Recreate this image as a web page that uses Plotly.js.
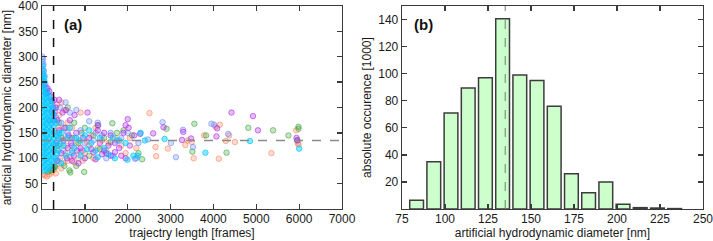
<!DOCTYPE html>
<html>
<head>
<meta charset="utf-8">
<script src="https://cdn.plot.ly/plotly-3.0.1.min.js"></script>
<style>
html,body{margin:0;padding:0;background:#fff;}
#chart{width:713px;height:241px;}
</style>
</head>
<body>
<div id="chart"></div>
<script>
// ---- panel (a): trajectory length vs. artificial hydrodynamic diameter ----
// points as [length (frames), diameter (nm)], one list per measurement series
const cyanPts = [
  [15,82],[15,92],[15,102],[15,112],[15,122],[15,132],[15,142],[15,152],[15,162],[15,172],[15,182],[15,192],[15,202],[15,212],[15,222],[15,232],[15,242],[15,252],[15,262],[15,272],[15,282],
  [60,75],[60,86],[60,97],[60,108],[60,119],[60,130],[60,141],[60,152],[60,163],[60,174],[60,185],[60,196],[60,207],[60,218],[60,229],[60,240],[60,251],[60,262],
  [110,78],[110,89],[110,100],[110,111],[110,122],[110,133],[110,144],[110,155],[110,166],[110,177],[110,188],[110,199],[110,210],[110,221],[110,232],
  [165,80],[165,92],[165,104],[165,116],[165,128],[165,140],[165,152],[165,164],[165,176],[165,188],[165,200],[165,212],[165,222],
  [220,84],[220,96],[220,108],[220,120],[220,132],[220,144],[220,156],[220,168],[220,180],[220,192],[220,204],[220,214],
  [270,90],[270,102],[270,114],[270,126],[270,138],[270,150],[270,162],[270,174],[270,186],[270,198],
  [330,100],[330,125],[330,145],[330,170],[380,115],[380,140],[420,128],[460,150],
  [400,150],[500,125],[600,140],[700,110],[800,140],[900,105],[1000,145],[1150,130],[1250,115],[1350,140],
  [1450,120],[1550,108],[1650,140],[1800,135],[1950,130],[1992,97],[2133,105],[2234,105],[2400,135],[2300,150],
  [650,160],[350,110],[450,90],[750,120],[1100,155],[1700,100],[560,105],[880,135],[1050,118],[1300,102],
  [2860,138],[3813,111],[4852,134],[6000,119]
];
const bluePts = [
  [8,300],[22,296],[12,290],[35,285],[18,276],[45,272],[28,266],[55,258],[40,250],[80,246],[95,238],[130,230],
  [330,180],[450,170],[550,210],[800,195],[1100,173],[1300,170],[1400,145],[1600,150],[1750,135],[2000,150],
  [2200,100],[2172,99],[900,155],[650,190],[1200,135],[1500,100],[1650,105],[700,125],[500,115],[350,135],
  [1000,130],[1850,140],[2250,130],[420,200],[600,150],[760,140],[950,115],[1250,150],[380,95],
  [2812,171],[2469,137],[3008,130],[3125,102],[3289,156],[3523,122],[3953,168],[4016,166],[4344,148]
];
const purplePts = [
  [50,245],[90,228],[130,238],[170,232],[200,222],[240,212],[260,200],[290,215],[230,190],[300,192],[280,175],[190,175],
  [320,200],[400,215],[480,190],[560,195],[650,175],[760,185],[1062,190],[1300,155],[1310,165],[1450,150],
  [1600,145],[1700,130],[1800,120],[1900,150],[1950,165],[2000,177],[2020,160],[2050,125],[2150,145],[2290,148],
  [1850,105],[1700,112],[1500,110],[1400,108],[1200,112],[1000,100],[850,90],[700,95],[600,120],[500,135],
  [400,155],[350,95],[900,120],[1100,140],[800,150],[1550,125],[1950,100],[1350,130],
  [330,130],[360,175],[450,110],[520,160],[580,100],[620,145],[680,130],[740,105],[820,115],[960,140],
  [1150,118],[1250,98],[1450,115],[1600,105],
  [2594,149],[2836,161],[3266,136],[3297,152],[3477,139],[4070,143],[4086,159],[4422,190],[4922,183],
  [5039,155],[5938,140],[5953,135]
];
const orangePts = [
  [25,68],[70,66],[120,64],[170,68],[230,72],[280,78],[320,70],
  [350,205],[450,210],[400,185],[520,195],[600,170],[700,160],[900,190],[350,120],[420,100],[500,90],[600,95],
  [750,92],[850,100],[950,95],[1000,110],[1100,125],[1200,100],[1300,120],[1400,135],[1550,130],[1700,140],
  [1850,125],[1950,110],[2050,140],[2200,120],[300,150],[650,140],[800,130],[1150,145],[450,80],[550,110],
  [700,115],[380,160],[1250,160],[1500,115],[340,88],[480,140],[560,125],[900,112],[1050,132],[660,102],
  [2508,189],[2648,122],[2664,104],[2937,119],[3344,126],[3398,135],[3492,132],[3539,100],[3781,145],
  [4047,162],[4125,99],[4148,166],[4289,134],[4367,145],[4500,132],[5352,110],[5930,155],[5970,130],[5984,127]
];
const greenPts = [
  [150,74],[200,76],[250,80],[290,84],
  [305,83],[640,76],[660,72],[984,73],[520,85],[800,85],[400,170],[600,200],[750,170],[1000,160],[1200,145],
  [1300,165],[1450,140],[1641,169],[1750,150],[1600,132],[2336,98],[2250,110],[2100,145],[1900,155],[850,130],
  [1100,105],[450,140],[550,160],[1350,118],[380,125],[700,140],[920,150],
  [2906,158],[3508,113],[3555,168],[3828,145],[4305,111],[4813,160],[5391,155],[5750,145],[5984,162],[5984,158],[5960,136]
];

// ---- panel (b): histogram of the artificial hydrodynamic diameter ----
const binCenters = [83.5,93.5,103.5,113.5,123.5,133.5,143.5,153.5,163.5,173.5,183.5,193.5,203.5,213.5,223.5,233.5];
const binCounts  = [6.5,35,71,89.5,97,140.5,99,95,76,26,12,20,3.5,1,0.7,0.3];

// tick labels
const xTicksA = [1000,2000,3000,4000,5000,6000,7000];
const yTicksA = [0,50,100,150,200,250,300,350,400];
const xTicksB = [75,100,125,150,175,200,225,250];
const yTicksB = [20,40,60,80,100,120,140];

// reference values
const lengthCut = 270;     // frames
const meanDiameter = 135;  // nm

const FONT = '"Liberation Sans", Arial, sans-serif';
const AX = '#3a3a3a';
const tickFont = {family: FONT, size: 12, color: '#1a1a1a'};

function series(pts, rgb, fillA, lineA) {
  return {
    type: 'scatter', mode: 'markers',
    x: pts.map(p => p[0]), y: pts.map(p => p[1]),
    xaxis: 'x', yaxis: 'y', hoverinfo: 'skip', showlegend: false,
    marker: {
      size: 5.5, symbol: 'circle',
      color: 'rgba(' + rgb + ',' + fillA + ')',
      line: {color: 'rgba(' + rgb + ',' + lineA + ')', width: 1}
    }
  };
}

const traces = [
  series(orangePts, '255,125,85', 0.28, 0.55),
  series(greenPts, '50,160,50', 0.28, 0.55),
  series(bluePts, '110,140,255', 0.30, 0.60),
  series(purplePts, '175,45,235', 0.32, 0.62),
  series(cyanPts, '0,200,255', 0.45, 0.70),
  {
    type: 'bar', x: binCenters, y: binCounts, width: 8,
    xaxis: 'x2', yaxis: 'y2', hoverinfo: 'skip', showlegend: false,
    marker: {color: '#ccffcc', line: {color: '#3c3c3c', width: 1.5}}
  }
];

const axisBase = {
  showline: true, linecolor: AX, linewidth: 1.3, mirror: 'ticks',
  ticks: 'inside', ticklen: 5, tickwidth: 1.3, tickcolor: AX,
  showgrid: false, zeroline: false, automargin: false,
  ticklabeloverflow: 'allow',
  tickfont: tickFont
};
const titleFont = {family: FONT, size: 12, color: '#1a1a1a'};

const layout = {
  width: 713, height: 241,
  margin: {l: 42, r: 10, t: 6, b: 32},
  paper_bgcolor: '#fff', plot_bgcolor: '#fff',
  font: {family: FONT},
  xaxis: Object.assign({}, axisBase, {
    domain: [0, 0.4539], range: [0, 7000], anchor: 'y',
    tickmode: 'array', tickvals: xTicksA, ticklabelstandoff: -2,
    title: {text: 'trajectry length [frames]', font: titleFont, standoff: 0}
  }),
  yaxis: Object.assign({}, axisBase, {
    domain: [0, 1], range: [0, 400], anchor: 'x',
    tickmode: 'array', tickvals: yTicksA,
    title: {text: 'artificial hydrodynamic diameter [nm]', font: titleFont, standoff: 4}
  }),
  xaxis2: Object.assign({}, axisBase, {
    domain: [0.5446, 1], range: [75, 250], anchor: 'y2',
    tickmode: 'array', tickvals: xTicksB, ticklabelstandoff: -2,
    title: {text: 'artificial hydrodynamic diameter [nm]', font: titleFont, standoff: 0}
  }),
  yaxis2: Object.assign({}, axisBase, {
    domain: [0, 1], range: [0, 150], anchor: 'x2',
    tickmode: 'array', tickvals: yTicksB,
    title: {text: 'absolute occurence [1000]', font: titleFont, standoff: 4}
  }),
  bargap: 0,
  shapes: [
    {type: 'line', xref: 'x', yref: 'y', x0: lengthCut, x1: lengthCut, y0: 0, y1: 400,
     line: {color: '#111', width: 1.5, dash: 'dash'}, layer: 'above'},
    {type: 'line', xref: 'x', yref: 'y', x0: 0, x1: 7000, y0: meanDiameter, y1: meanDiameter,
     line: {color: '#8a8a8a', width: 1.6, dash: 'dash'}, layer: 'above'},
    {type: 'line', xref: 'x2', yref: 'y2', x0: meanDiameter, x1: meanDiameter, y0: 0, y1: 150,
     line: {color: '#777', width: 1, dash: 'dash'}, layer: 'above'}
  ],
  annotations: [
    {text: '<b>(a)</b>', xref: 'x domain', yref: 'y domain', x: 0.067, y: 0.91,
     xanchor: 'left', yanchor: 'middle', showarrow: false, font: {family: FONT, size: 15, color: '#111'}},
    {text: '<b>(b)</b>', xref: 'x2 domain', yref: 'y2 domain', x: 0.032, y: 0.91,
     xanchor: 'left', yanchor: 'middle', showarrow: false, font: {family: FONT, size: 15, color: '#111'}}
  ]
};

Plotly.newPlot('chart', traces, layout, {displayModeBar: false, staticPlot: true});
</script>
</body>
</html>
